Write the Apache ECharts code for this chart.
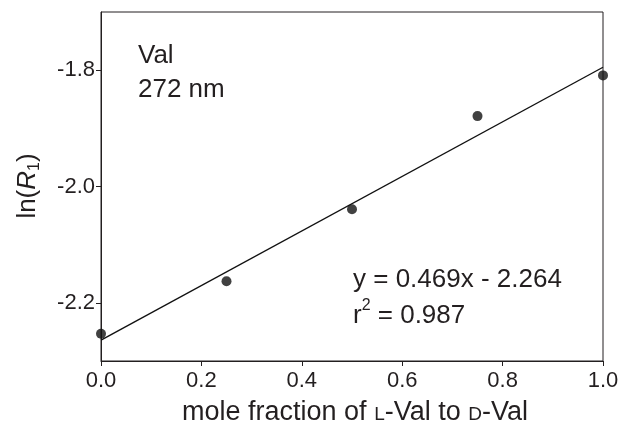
<!DOCTYPE html>
<html>
<head>
<meta charset="utf-8">
<script src="https://cdn.jsdelivr.net/npm/echarts@6/dist/echarts.min.js"></script>
<style>
  html, body { margin: 0; padding: 0; background: #fff; }
  #container { width: 622px; height: 434px; }
</style>
</head>
<body>
<div id="container"></div>
<script>
var dom = document.getElementById("container");
var myChart = echarts.init(dom);

// measured points
var fractions = [0, 0.25, 0.5, 0.75, 1.0];
var lnR1 = [-2.253, -2.163, -2.039, -1.879, -1.809];

// fitted line ends (y = 0.469x - 2.264)
var fitX = [0, 1];
var fitY = [-2.264, -1.795];

var yTicks = [-2.2, -2.0, -1.8];

var ink = '#231f20';
var dot = '#111';
var font = '"Liberation Sans", Arial, Helvetica, sans-serif';

var points = [];
for (var i = 0; i < fractions.length; i++) {
    points.push([fractions[i], lnR1[i]]);
}
var fitLine = [];
for (var j = 0; j < fitX.length; j++) {
    fitLine.push([fitX[j], fitY[j]]);
}

var option = {
    animation: false,
    backgroundColor: '#fff',
    textStyle: { fontFamily: font, color: ink },
    grid: {
        left: 101,
        right: 19,
        top: 12,
        bottom: 73,
        show: true,
        borderColor: ink,
        borderWidth: 1,
        containLabel: false
    },
    xAxis: {
        type: 'value',
        min: 0,
        max: 1,
        interval: 0.2,
        splitLine: { show: false },
        axisLine: { onZero: false, lineStyle: { color: ink, width: 1 } },
        axisTick: { inside: false, length: 5, lineStyle: { color: ink } },
        axisLabel: {
            margin: 9,
            fontSize: 22,
            color: ink,
            fontFamily: font,
            formatter: function (v) { return v.toFixed(1); }
        }
    },
    yAxis: {
        type: 'value',
        min: -2.3,
        max: -1.7,
        splitLine: { show: false },
        axisLine: { onZero: false, lineStyle: { color: ink, width: 1 } },
        axisTick: { inside: false, length: 5, customValues: yTicks, lineStyle: { color: ink } },
        axisLabel: {
            margin: 6,
            fontSize: 22,
            color: ink,
            fontFamily: font,
            customValues: yTicks,
            formatter: function (v) { return v.toFixed(1); }
        }
    },
    series: [
        {
            type: 'line',
            data: fitLine,
            symbol: 'none',
            lineStyle: { color: dot, width: 1.4 },
            silent: true
        },
        {
            type: 'scatter',
            data: points,
            symbol: 'circle',
            symbolSize: 10,
            clip: false,
            itemStyle: { color: dot }
        }
    ],
    graphic: [
        {
            type: 'text', left: 138, top: 39,
            style: { text: 'Val\n272 nm', font: '26px ' + font, fill: ink, lineHeight: 34 }
        },
        {
            type: 'text', left: 353, top: 262,
            style: {
                text: 'y = 0.469x - 2.264\nr{sup|2} = 0.987',
                font: '26px ' + font, fill: ink, lineHeight: 36,
                rich: {
                    sup: { fontSize: 16, verticalAlign: 'top', lineHeight: 34, fontFamily: font, fill: ink }
                }
            }
        },
        {
            type: 'text', x: 355, y: 413,
            style: {
                text: 'mole fraction of {sc|l}-Val to {sc|d}-Val',
                font: '27px ' + font, fill: ink, align: 'center', verticalAlign: 'middle',
                rich: {
                    sc: { fontStyle: 'small-caps', fontSize: 27, fontFamily: font, fill: ink }
                }
            }
        },
        {
            type: 'text', x: 28, y: 186, rotation: Math.PI / 2,
            style: {
                text: 'ln({i|R}{sub|1})',
                font: '26px ' + font, fill: ink, align: 'center', verticalAlign: 'middle',
                rich: {
                    i: { fontSize: 26, fontStyle: 'italic', fontFamily: font, fill: ink, lineHeight: 30 },
                    sub: { fontSize: 16, fontFamily: font, fill: ink, verticalAlign: 'bottom', lineHeight: 30 }
                }
            }
        }
    ]
};

myChart.setOption(option, true);
</script>
</body>
</html>
